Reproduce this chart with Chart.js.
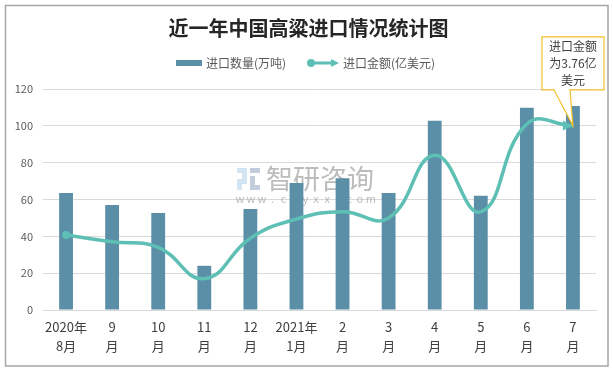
<!DOCTYPE html>
<html lang="zh">
<head>
<meta charset="UTF-8" />
<title>近一年中国高粱进口情况统计图</title>
<script src="https://cdn.jsdelivr.net/npm/chart.js@4.4.1/dist/chart.umd.min.js"></script>
<style>
    html, body { margin: 0; padding: 0; background: #fff; }
    #wrap { width: 613px; height: 371px; position: relative; }
</style>
</head>
<body>
<div id="wrap"><canvas id="c"></canvas></div>
<script>
// === Data ===
const months = [
    ["2020年", "8月"], ["9", "月"], ["10", "月"], ["11", "月"], ["12", "月"],
    ["2021年", "1月"], ["2", "月"], ["3", "月"], ["4", "月"], ["5", "月"], ["6", "月"], ["7", "月"]
];
const volume = [63.5, 57, 52.7, 24, 54.8, 69, 71.5, 63.5, 102.7, 62, 109.8, 110.8]; // 万吨
const amount = [40.7, 37, 34, 17, 39, 49.4, 53.4, 50, 84, 53.3, 101, 100];       // 亿美元 (as drawn)
const yTicks = [0, 20, 40, 60, 80, 100, 120];

const TITLE = "近一年中国高粱进口情况统计图";
const LEG_BAR = "进口数量(万吨)";
const LEG_LINE = "进口金额(亿美元)";
const NOTE = ["进口金额", "为3.76亿", "美元"];

const BAR_COLOR = "#5b8fa8";
const LINE_COLOR = "#5ebfb4";
const FONT = "'Noto Sans CJK SC', 'Microsoft YaHei', sans-serif";

function arrowHead(ctx, x, y, ang, len, half) {
    ctx.save();
    ctx.translate(x, y);
    ctx.rotate(ang);
    ctx.beginPath();
    ctx.moveTo(0, 0);
    ctx.lineTo(-len, -half);
    ctx.lineTo(-len, half);
    ctx.closePath();
    ctx.fill();
    ctx.restore();
}

// background: watermark; foreground: frame, title, legend, callout
const backdrop = {
    id: "backdrop",
    beforeDatasetsDraw(chart) {
        const ctx = chart.ctx;
        ctx.save();
        // watermark logo (rough)
        ctx.fillStyle = "#d3e4f2";
        ctx.fillRect(237, 168, 10, 5);
        ctx.fillRect(242, 173, 5, 6);
        ctx.fillRect(237, 179, 10, 5);
        ctx.fillRect(237, 184, 5, 6);
        ctx.fillStyle = "#c3ccda";
        ctx.fillRect(250, 168, 10, 5);
        ctx.fillRect(250, 176, 5, 14);
        ctx.fillRect(255, 185, 5, 5);
        ctx.fillStyle = "rgba(160,160,160,0.7)";
        ctx.font = "27px " + FONT;
        ctx.textBaseline = "middle";
        ctx.textAlign = "left";
        ctx.fillText("智研咨询", 266, 179);
        ctx.font = "11px " + FONT;
        ctx.textAlign = "center";
        const url = "www.chyxx.com";
        for (let i = 0; i < url.length; i++) {
            ctx.fillText(url[i], 240 + i * 10.9, 199);
        }
        ctx.restore();
    },
    afterDraw(chart) {
        const ctx = chart.ctx;
        ctx.save();
        // frame
        ctx.strokeStyle = "#a6a6a6";
        ctx.lineWidth = 1.5;
        ctx.strokeRect(5.5, 5.5, 602.5, 360.5);

        // title
        ctx.fillStyle = "#262626";
        ctx.font = "bold 20px " + FONT;
        ctx.textAlign = "center";
        ctx.textBaseline = "middle";
        ctx.fillText(TITLE, 308.5, 28);

        // legend
        ctx.font = "12px " + FONT;
        ctx.textAlign = "left";
        ctx.fillStyle = BAR_COLOR;
        ctx.fillRect(176, 60, 26, 6);
        ctx.fillStyle = "#595959";
        ctx.fillText(LEG_BAR, 206, 63);
        ctx.strokeStyle = LINE_COLOR;
        ctx.fillStyle = LINE_COLOR;
        ctx.lineWidth = 3;
        ctx.beginPath();
        ctx.moveTo(311, 63);
        ctx.lineTo(333, 63);
        ctx.stroke();
        ctx.beginPath();
        ctx.arc(311, 63, 4, 0, Math.PI * 2);
        ctx.fill();
        arrowHead(ctx, 339, 63, 0, 8, 4);
        ctx.fillStyle = "#595959";
        ctx.fillText(LEG_LINE, 343, 63);

        // callout for the last point
        const meta = chart.getDatasetMeta(1);
        const p = meta.data[meta.data.length - 1];
        const bx = p.x - 31, bw = 62, bh = 53;
        const by = p.y - 36 - bh;
        ctx.fillStyle = "#fff";
        ctx.beginPath();
        ctx.moveTo(bx, by);
        ctx.lineTo(bx + bw, by);
        ctx.lineTo(bx + bw, by + bh);
        ctx.lineTo(p.x - 3, by + bh);
        ctx.lineTo(p.x, p.y);
        ctx.lineTo(p.x - 19, by + bh);
        ctx.lineTo(bx, by + bh);
        ctx.closePath();
        ctx.fill();
        ctx.strokeStyle = "#f2bf2a";
        ctx.lineWidth = 1.2;
        ctx.stroke();
        ctx.fillStyle = "#404040";
        ctx.font = "12px " + FONT;
        ctx.textAlign = "center";
        NOTE.forEach((t, i) => ctx.fillText(t, p.x, by + 10 + i * 17));
        ctx.restore();
    }
};

// arrow at line end, following the curve's last segment
const lineEnds = {
    id: "lineEnds",
    afterDatasetsDraw(chart) {
        const meta = chart.getDatasetMeta(1);
        const p = meta.data[meta.data.length - 1];
        const ang = Math.atan2(p.y - p.cp1y, p.x - p.cp1x);
        const ctx = chart.ctx;
        ctx.save();
        ctx.fillStyle = LINE_COLOR;
        arrowHead(ctx, p.x, p.y, ang, 10, 5);
        ctx.restore();
    }
};

new Chart(document.getElementById("c"), {
    data: {
        labels: months,
        datasets: [
            {
                type: "bar",
                label: LEG_BAR,
                data: volume,
                backgroundColor: BAR_COLOR,
                barPercentage: 0.3,
                categoryPercentage: 1,
                order: 2
            },
            {
                type: "line",
                label: LEG_LINE,
                data: amount,
                borderColor: LINE_COLOR,
                backgroundColor: LINE_COLOR,
                borderWidth: 3.5,
                tension: 0.45,
                fill: false,
                pointRadius: (c) => (c.dataIndex === 0 ? 4 : 0),
                pointBorderWidth: 0,
                order: 1
            }
        ]
    },
    options: {
        responsive: true,
        maintainAspectRatio: false,
        animation: false,
        events: [],
        layout: { padding: { left: 5, right: 17, top: 89, bottom: 10 } },
        scales: {
            x: {
                grid: { display: false, drawTicks: false },
                border: { color: "#d9d9d9", width: 1 },
                ticks: {
                    color: "#404040",
                    font: { family: FONT, size: 13, lineHeight: 1.45 },
                    padding: 8,
                    maxRotation: 0,
                    autoSkip: false
                },
                afterFit: (s) => { s.height = 51; }
            },
            y: {
                min: 0,
                max: 120,
                afterBuildTicks: (s) => { s.ticks = yTicks.map((v) => ({ value: v })); },
                grid: { color: "#d9d9d9", drawTicks: false },
                border: { display: false },
                ticks: {
                    color: "#595959",
                    font: { family: FONT, size: 11 },
                    padding: 10
                },
                afterFit: (s) => { s.width = 38; }
            }
        },
        plugins: {
            legend: { display: false },
            title: { display: false },
            tooltip: { enabled: false }
        }
    },
    plugins: [backdrop, lineEnds]
});
</script>
</body>
</html>
